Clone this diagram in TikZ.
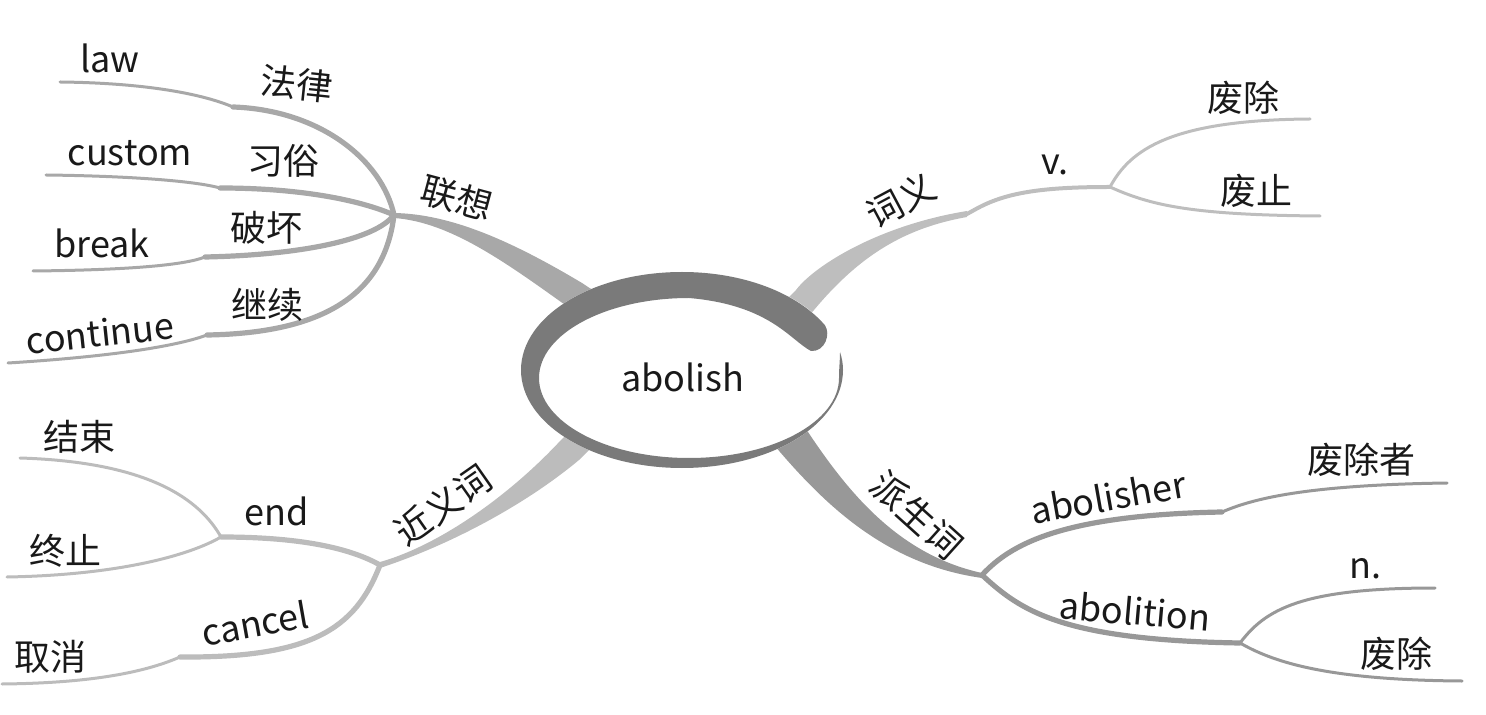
\documentclass[tikz,border=0pt]{standalone}
\usepackage{fontspec}
\setmainfont{Noto Sans CJK SC}
\usetikzlibrary{positioning}
\definecolor{ringgray}{RGB}{122,122,122}
\definecolor{lxgray}{RGB}{168,168,168}
\definecolor{cygray}{RGB}{190,190,190}
\definecolor{jygray}{RGB}{188,188,188}
\definecolor{psgray}{RGB}{152,152,152}
\definecolor{textdark}{RGB}{25,25,25}

\begin{document}
\begin{tikzpicture}[x=0.5pt, y=-0.5pt,
    word/.style={font=\fontsize{18}{21}\selectfont, text=textdark, inner sep=0pt},
    twig/.style={line width=2.6pt, line cap=round},
    leaf/.style={line width=1.5pt, line cap=round}
]
    \useasboundingbox (0,0) rectangle (1486,715);

    \coordinate (lxj) at (394,215);
    \coordinate (lawk) at (233,107);  \coordinate (lawe) at (60,82);
    \coordinate (cusk) at (220,188);  \coordinate (cuse) at (46,175);
    \coordinate (brkk) at (205,257);  \coordinate (brke) at (33,271);
    \coordinate (conk) at (207,335);  \coordinate (cone) at (8,363);

    \coordinate (jyj) at (380,565);
    \coordinate (endf) at (221,537);  \coordinate (jse) at (20,458);   \coordinate (zze) at (7,577);
    \coordinate (cank) at (180,657);  \coordinate (cane) at (2,684);

    \coordinate (cyj) at (967,214);   \coordinate (cyk) at (976,209);
    \coordinate (vf) at (1110,187);   \coordinate (fce1) at (1310,119); \coordinate (fzze) at (1320,216);

    \coordinate (psj) at (982,575);
    \coordinate (abk) at (1222,512);  \coordinate (abe) at (1447,483);
    \coordinate (nf) at (1240,643);   \coordinate (ne) at (1435,588);   \coordinate (fce2) at (1462,681);

    \fill[lxgray] (394,213) .. controls (450,214) and (510,240) .. (582,283) -- (617,306)
        -- (603,330) -- (568,307) .. controls (505,262) and (450,222) .. (394,218) -- cycle;
    \fill[cygray] (771,315) -- (796,290) .. controls (815,265) and (880,225) .. (967,211)
        -- (967,217) .. controls (905,228) and (860,255) .. (814,310) -- (789,335) -- cycle;
    \fill[jygray] (380,562) .. controls (440,545) and (510,495) .. (561,440) -- (591,410)
        -- (609,430) -- (579,460) .. controls (525,505) and (450,545) .. (380,568) -- cycle;
    \fill[psgray] (783,402) -- (808,432) .. controls (850,495) and (900,555) .. (982,573)
        -- (982,578) .. controls (890,565) and (830,510) .. (780,452) -- (755,422) -- cycle;

    \draw[twig, lxgray] (lxj) .. controls (382,160) and (320,110) .. (lawk);
    \draw[leaf, lxgray] (lawk) .. controls (205,95) and (150,83) .. (lawe);
    \draw[twig, lxgray] (lxj) .. controls (360,200) and (300,188) .. (cusk);
    \draw[leaf, lxgray] (cusk) .. controls (195,181) and (130,176) .. (cuse);
    \draw[twig, lxgray] (lxj) .. controls (375,240) and (300,255) .. (brkk);
    \draw[leaf, lxgray] (brkk) .. controls (185,265) and (130,270) .. (brke);
    \draw[twig, lxgray] (lxj) .. controls (385,290) and (330,333) .. (conk);
    \draw[leaf, lxgray] (conk) .. controls (180,345) and (120,356) .. (cone);

    \draw[twig, jygray] (jyj) .. controls (350,548) and (300,537) .. (endf);
    \draw[leaf, jygray] (endf) .. controls (200,500) and (150,462) .. (jse);
    \draw[leaf, jygray] (endf) .. controls (190,555) and (120,575) .. (zze);
    \draw[twig, jygray] (jyj) .. controls (355,630) and (310,658) .. (cank);
    \draw[leaf, jygray] (cank) .. controls (150,670) and (100,683) .. (cane);

    \draw[twig, cygray, line width=2pt] (cyj) -- (cyk) .. controls (1005,193) and (1040,187) .. (vf);
    \draw[leaf, cygray] (vf) .. controls (1130,150) and (1170,120) .. (fce1);
    \draw[leaf, cygray] (vf) .. controls (1150,205) and (1190,215) .. (fzze);

    \draw[twig, psgray] (psj) .. controls (1010,545) and (1060,515) .. (abk);
    \draw[leaf, psgray] (abk) .. controls (1250,500) and (1300,485) .. (abe);
    \draw[twig, psgray] (psj) .. controls (1020,610) and (1060,640) .. (nf);
    \draw[leaf, psgray] (nf) .. controls (1265,610) and (1300,588) .. (ne);
    \draw[leaf, psgray] (nf) .. controls (1270,660) and (1320,680) .. (fce2);

    \fill[white] (682,370) ellipse [x radius=161, y radius=98];
    \fill[ringgray] (840,352) .. controls (842,358) and (843,364) .. (843,370)
        .. controls (843,424.1) and (770.9,468) .. (682,468)
        .. controls (593.1,468) and (521,424.1) .. (521,370)
        .. controls (521,315.9) and (593.1,272) .. (682,272)
        .. controls (744.2,272) and (797.6,293.5) .. (824.9,325.2)
        .. controls (831,334) and (825,352) .. (811,351)
        .. controls (790,340) and (770,305) .. (689,298)
        .. controls (606.2,298) and (539,333.8) .. (539,378)
        .. controls (539,422.2) and (606.2,458) .. (689,458)
        .. controls (771.8,458) and (839,422.2) .. (839,378)
        .. controls (839,368) and (840,360) .. (840,352) -- cycle;

    \node[word] (core) at (683,377) {abolish};

    \node[word, rotate=-15] (lianxiang) at (457,198) {联想};
    \node[word] (law) at (110,58) {law};
    \node[word, rotate=-6] (falv) at (297,84) {法律};
    \node[word] (custom) at (130,153) {custom};
    \node[word] (xisu) at (283,161) {习俗};
    \node[word] (break) at (102,243) {break};
    \node[word] (pohuai) at (266,228) {破坏};
    \node[word, rotate=6] (continue) at (100,333) {continue};
    \node[word] (jixu) at (267,305) {继续};

    \node[word, rotate=35] (jinyici) at (443,505) {近义词};
    \node[word] (jieshu) at (79,437) {结束};
    \node[word] (endw) at (277,511) {end};
    \node[word] (zhongzhi) at (65,551) {终止};
    \node[word, rotate=10] (cancel) at (255,623) {cancel};
    \node[word] (quxiao) at (50,657) {取消};

    \node[word, rotate=28] (ciyi) at (901,200) {词义};
    \node[word] (verb) at (1055,165) {v.};
    \node[word] (feichu) at (1243,98) {废除};
    \node[word] (feizhi) at (1256,191) {废止};

    \node[word, rotate=-42] (paishengci) at (917,515) {派生词};
    \node[word, rotate=10] (abolisher) at (1108,497) {abolisher};
    \node[word] (feichuzhe) at (1361,460) {废除者};
    \node[word, rotate=-5] (abolition) at (1135,611) {abolition};
    \node[word] (noun) at (1365,569) {n.};
    \node[word] (feichun) at (1396,654) {废除};
\end{tikzpicture}
\end{document}
